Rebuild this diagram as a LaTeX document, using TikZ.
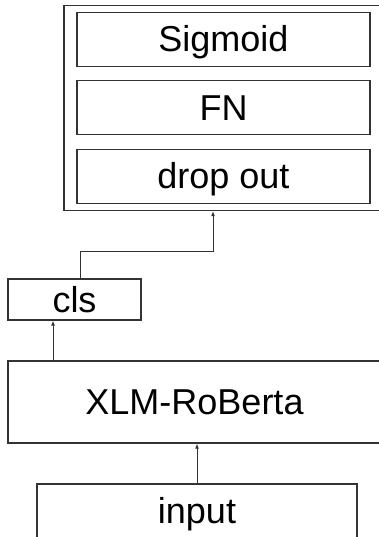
\documentclass[tikz,border=0pt]{standalone}
\usepackage{fontspec}
\setmainfont{Liberation Sans}
\usetikzlibrary{arrows.meta}

\tikzset{
  layer/.style={draw=black!80, line width=1.2pt, inner sep=0pt, text height=25pt, text depth=0pt,
    font=\fontsize{36}{40}\selectfont},
  arr/.style={draw=black!80, line width=1pt, -{Latex[length=5pt,width=4pt]}}
}

\begin{document}
\begin{tikzpicture}[x=1pt, y=-1pt]
        \useasboundingbox (0,0) rectangle (379,537);
        \clip (0,0) rectangle (379,537);
        % classification head
        \node[layer, minimum width=336pt, minimum height=205pt] (head) at (232,108) {};
        \node[layer, minimum width=293pt, minimum height=54pt] (sigmoid) at (223.5,39.5) {Sigmoid};
        \node[layer, minimum width=293pt, minimum height=54pt] (fn) at (223.5,107.7) {FN};
        \node[layer, minimum width=293pt, minimum height=54pt] (dropout) at (223.5,176.5) {drop out};
        
        % encoder
        \node[layer, minimum width=133pt, minimum height=41pt] (cls) at (74.5,299.5) {cls};
        \node[layer, minimum width=373pt, minimum height=82pt] (xlmr) at (194.5,402) {XLM-RoBerta};
        \node[layer, minimum width=320pt, minimum height=54pt] (input) at (197,511) {input};
        
        \coordinate (bend) at (213,251);
        \draw[arr] ([xshift=5.5pt]cls.north) |- (bend) -- (bend |- head.south);
        \draw[arr] ([xshift=-21.5pt]cls.south |- xlmr.north) -- ([xshift=-21.5pt]cls.south);
        \draw[arr] (input.north) -- (input.north |- xlmr.south);
    \end{tikzpicture}
\end{document}
